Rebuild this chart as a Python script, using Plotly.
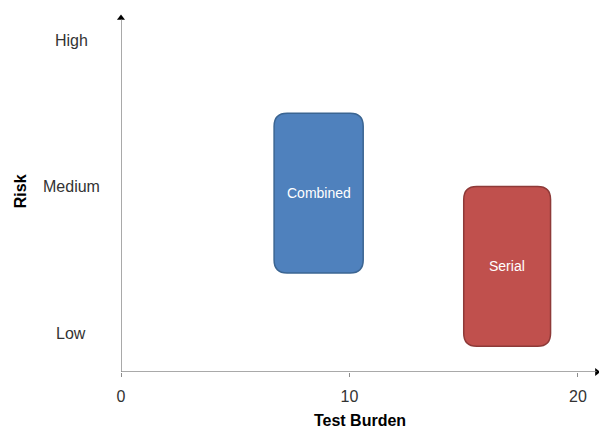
import plotly.graph_objects as go

# Strategy blocks: test burden span (x) and risk span (y)
strategies = ["Combined", "Serial"]
burden_low = [6.7, 15.0]
burden_high = [10.6, 18.8]
risk_low = [1.41, 0.91]
risk_high = [2.50, 2.00]

fill_colors = ["#4F81BD", "#C0504D"]
edge_colors = ["#3B6592", "#8E3A38"]

risk_levels = [1, 2, 3]
risk_labels = ["Low", "Medium", "High"]
burden_ticks = [0, 10, 20]

X_MIN, X_MAX = 0, 20.92
Y_MIN, Y_MAX = 0.734, 3.273

# pixel scale for rounding corners consistently in data units
PX_X = 457 / 20.0
PX_Y = 146.5
R_PX = 13

FONT = "Liberation Sans, Arial"


def rounded_rect(x0, x1, y0, y1):
    rx = R_PX / PX_X
    ry = R_PX / PX_Y
    return (
        f"M {x0 + rx},{y0} L {x1 - rx},{y0} Q {x1},{y0} {x1},{y0 + ry} "
        f"L {x1},{y1 - ry} Q {x1},{y1} {x1 - rx},{y1} "
        f"L {x0 + rx},{y1} Q {x0},{y1} {x0},{y1 - ry} "
        f"L {x0},{y0 + ry} Q {x0},{y0} {x0 + rx},{y0} Z"
    )


fig = go.Figure()

shapes = []
annotations = []
for name, xl, xh, yl, yh, fc, ec in zip(strategies, burden_low, burden_high,
                                        risk_low, risk_high, fill_colors, edge_colors):
    shapes.append(dict(type="path", path=rounded_rect(xl, xh, yl, yh),
                       xref="x", yref="y", fillcolor=fc,
                       line=dict(color=ec, width=1.5), layer="above"))
    annotations.append(dict(x=(xl + xh) / 2, y=(yl + yh) / 2, xref="x", yref="y",
                            text=name, showarrow=False,
                            font=dict(family=FONT, size=14, color="white")))

# axis lines
axis_color = "#8C8C8C"
shapes.append(dict(type="line", xref="x", yref="y", x0=0, x1=20.82, y0=Y_MIN, y1=Y_MIN,
                   line=dict(color=axis_color, width=1.5)))
shapes.append(dict(type="line", xref="x", yref="y", x0=0, x1=0, y0=Y_MIN, y1=3.14,
                   line=dict(color=axis_color, width=1.5)))

# arrowheads at the axis ends
fig.add_trace(go.Scatter(x=[20.83], y=[Y_MIN], mode="markers",
                         marker=dict(symbol="triangle-right", size=7, color="black"),
                         hoverinfo="skip", showlegend=False, cliponaxis=False))
fig.add_trace(go.Scatter(x=[0], y=[3.15], mode="markers",
                         marker=dict(symbol="triangle-up", size=7, color="black"),
                         hoverinfo="skip", showlegend=False, cliponaxis=False))

# risk level labels, centred to the left of the axis
for lvl, lab in zip(risk_levels, risk_labels):
    annotations.append(dict(x=-0.1046, y=lvl, xref="paper", yref="y", text=lab,
                            showarrow=False, xanchor="center", yanchor="middle",
                            font=dict(family=FONT, size=16, color="#333333")))

# vertical axis title
annotations.append(dict(x=-0.21, y=0.485, xref="paper", yref="paper",
                        text="<b>Risk</b>", textangle=-90, showarrow=False,
                        xanchor="center", yanchor="middle",
                        font=dict(family=FONT, size=16, color="black")))

fig.update_layout(
    width=599, height=429,
    margin=dict(l=121, r=0, t=0, b=57),
    paper_bgcolor="white", plot_bgcolor="white",
    showlegend=False,
    shapes=shapes,
    annotations=annotations,
    xaxis=dict(range=[X_MIN, X_MAX], tickvals=burden_ticks,
               ticks="outside", ticklen=4, tickcolor=axis_color, tickwidth=1,
               ticklabelstandoff=6, automargin=False,
               showgrid=False, zeroline=False, showline=False,
               tickfont=dict(family=FONT, size=16, color="#333333"),
               title=dict(text="<b>Test Burden</b>", standoff=16,
                          font=dict(family=FONT, size=16, color="black"))),
    yaxis=dict(range=[Y_MIN, Y_MAX], showticklabels=False, ticks="",
               showgrid=False, zeroline=False, showline=False, automargin=False),
)

fig.write_html("out.html")
